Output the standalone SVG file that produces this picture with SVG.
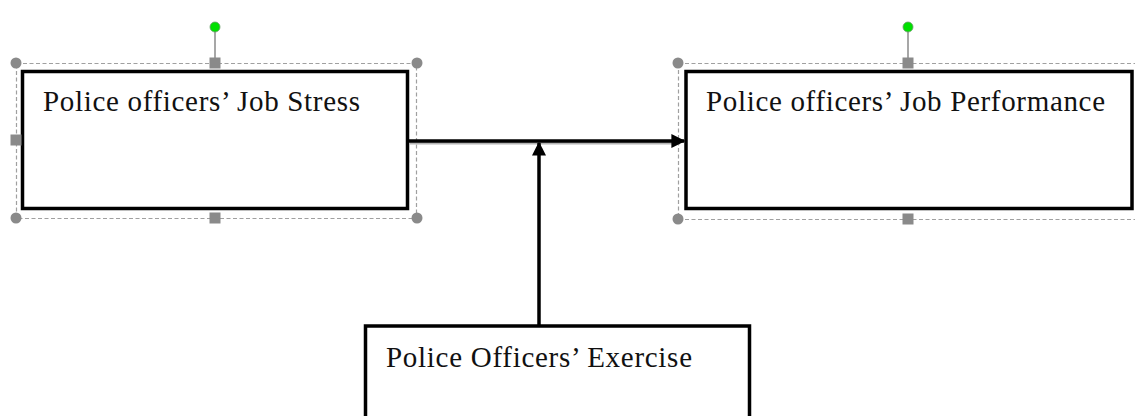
<svg xmlns="http://www.w3.org/2000/svg" width="1135" height="416" viewBox="0 0 1135 416">
  <style>
    .box { fill: #ffffff; stroke: #000000; stroke-width: 3.5; }
    .label { font-family: "Liberation Serif", "Times New Roman", serif; font-size: 29px; fill: #111111; }
    .frame { fill: none; stroke: #a0a0a0; stroke-width: 1.2; stroke-dasharray: 4 2.5; }
    .hc { fill: #8a8a8a; }
    .hs { fill: #8a8a8a; }
    .rot { fill: #00e000; stroke: #6a9a6a; stroke-width: 0.8; }
    .stem { stroke: #8a8a8a; stroke-width: 1.5; }
    .conn { stroke: #000000; stroke-width: 3.5; fill: none; }
    .shadow { stroke: #b4b4b4; stroke-width: 3; fill: none; }
  </style>
  <defs>
    <marker id="arrow" viewBox="0 0 10 10" refX="9" refY="5" markerWidth="4" markerHeight="4" orient="auto" markerUnits="strokeWidth">
      <path d="M0,0 L10,5 L0,10 z" fill="#000000"/>
    </marker>
  </defs>

  <rect width="1135" height="416" fill="#ffffff"/>

  <!-- Job stress (independent variable) -->
  <g id="node-stress">
    <rect class="frame" x="16.5" y="63.5" width="400" height="155"/>
    <rect class="box" x="22.5" y="71.5" width="385" height="137"/>
    <text class="label" x="43" y="111" textLength="317" lengthAdjust="spacing">Police officers’ Job Stress</text>
    <line class="stem" x1="215" y1="31" x2="215" y2="63"/>
    <circle class="rot" cx="215" cy="27" r="5"/>
    <circle class="hc" cx="16" cy="63" r="5.5"/>
    <circle class="hc" cx="417" cy="63" r="5.5"/>
    <circle class="hc" cx="16" cy="218" r="5.5"/>
    <circle class="hc" cx="417" cy="218" r="5.5"/>
    <rect class="hs" x="209.5" y="57.5" width="11" height="11"/>
    <rect class="hs" x="209.5" y="212.5" width="11" height="11"/>
    <rect class="hs" x="10.5" y="134.5" width="11" height="11"/>
  </g>

  <!-- Job performance (dependent variable) -->
  <g id="node-performance">
    <rect class="frame" x="678.5" y="63.5" width="470" height="156"/>
    <rect class="box" x="686" y="71.5" width="446" height="137"/>
    <text class="label" x="706" y="111" textLength="399" lengthAdjust="spacing">Police officers’ Job Performance</text>
    <line class="stem" x1="908" y1="31" x2="908" y2="63"/>
    <circle class="rot" cx="908" cy="27" r="5"/>
    <circle class="hc" cx="678" cy="63" r="5.5"/>
    <circle class="hc" cx="678" cy="219" r="5.5"/>
    <rect class="hs" x="902.5" y="57.5" width="11" height="11"/>
    <rect class="hs" x="902.5" y="213.5" width="11" height="11"/>
  </g>

  <!-- Exercise (moderator) -->
  <g id="node-exercise">
    <rect class="box" x="365.5" y="326" width="384" height="120"/>
    <text class="label" x="386" y="367" textLength="306" lengthAdjust="spacing">Police Officers’ Exercise</text>
  </g>

  <!-- Connectors -->
  <g id="connectors">
    <line class="shadow" x1="409" y1="143" x2="680" y2="143"/>
    <line class="conn" x1="409" y1="141" x2="684" y2="141" marker-end="url(#arrow)"/>
    <line class="conn" x1="539" y1="325" x2="539" y2="143" marker-end="url(#arrow)"/>
  </g>
</svg>
